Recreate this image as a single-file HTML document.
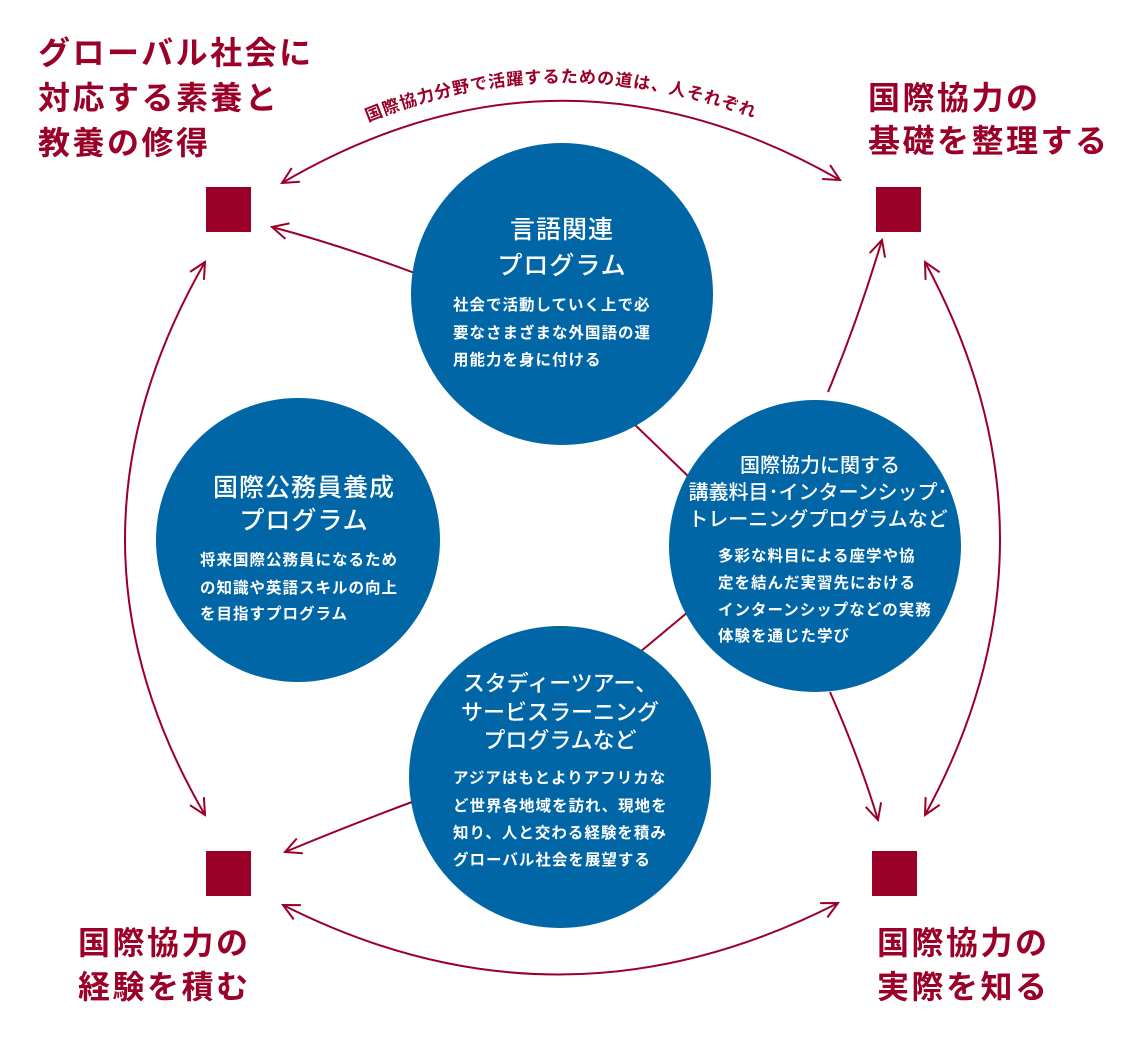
<!DOCTYPE html>
<html><head><meta charset="utf-8"><style>
html,body{margin:0;padding:0;background:#fff;}
svg{display:block;}
.t{font-family:"Liberation Sans","Noto Sans CJK JP",sans-serif;font-weight:bold;fill:#9b0029;font-size:32px;letter-spacing:2.5px;}
.c{font-family:"Liberation Sans","Noto Sans CJK JP",sans-serif;fill:#fff;}
.h{font-size:25px;font-weight:500;letter-spacing:1px;}
.h2{font-size:20px;font-weight:500;}
.h3{font-size:22px;font-weight:500;}
.b{font-size:15.5px;font-weight:bold;letter-spacing:1px;}
</style></head><body>
<svg width="1140" height="1048" viewBox="0 0 1140 1048" xmlns="http://www.w3.org/2000/svg">
<defs>
<marker id="a" viewBox="0 0 20 20" refX="18" refY="10" markerWidth="20" markerHeight="20" markerUnits="userSpaceOnUse" orient="auto-start-reverse">
<path d="M2,2 L18,10 L2,18" fill="none" stroke="#9b0029" stroke-width="2"/>
</marker>
<path id="arcText" d="M368,122 Q568,40 780,128"/>
</defs>
<g fill="none" stroke="#9b0029" stroke-width="2">
<path d="M282,183 Q560,20 840,180" marker-start="url(#a)" marker-end="url(#a)"/>
<path d="M205,262 Q45,540 205,815" marker-start="url(#a)" marker-end="url(#a)"/>
<path d="M925,262 Q1075,540 925,815" marker-start="url(#a)" marker-end="url(#a)"/>
<path d="M283,905 Q560,1045 838,903" marker-start="url(#a)" marker-end="url(#a)"/>
<path d="M420,275 Q340,245 272,227" marker-end="url(#a)"/>
<path d="M828,392 Q858,320 882,240" marker-end="url(#a)"/>
<path d="M830,692 Q860,760 878,820" marker-end="url(#a)"/>
<path d="M412,802 Q350,825 285,852" marker-end="url(#a)"/>
<line x1="630" y1="420" x2="690" y2="478"/>
<line x1="688" y1="612" x2="640" y2="652"/>
</g>
<text class="t" style="font-size:17px;letter-spacing:1px"><textPath href="#arcText">国際協力分野で活躍するための道は、人それぞれ</textPath></text>
<g fill="#9b0029">
<rect x="206" y="187" width="45" height="45"/>
<rect x="876" y="187" width="45" height="45"/>
<rect x="206" y="851" width="45" height="45"/>
<rect x="872" y="851" width="45" height="45"/>
</g>
<g fill="#0066a6">
<circle cx="562" cy="294" r="151"/>
<circle cx="298" cy="540" r="142"/>
<circle cx="815" cy="546" r="146"/>
<circle cx="560" cy="777" r="151"/>
</g>
<text class="t" x="38" y="64">グローバル社会に</text>
<text class="t" x="38" y="109">対応する素養と</text>
<text class="t" x="38" y="154">教養の修得</text>
<text class="t" x="868" y="109">国際協力の</text>
<text class="t" x="868" y="152">基礎を整理する</text>
<text class="t" x="78" y="954">国際協力の</text>
<text class="t" x="78" y="998">経験を積む</text>
<text class="t" x="877" y="954">国際協力の</text>
<text class="t" x="877" y="998">実際を知る</text>

<g class="c">
<text class="h" x="562" y="238" text-anchor="middle">言語関連</text>
<text class="h" x="562" y="274" text-anchor="middle">プログラム</text>
<text class="b" x="453" y="310">社会で活動していく上で必</text>
<text class="b" x="453" y="338">要なさまざまな外国語の運</text>
<text class="b" x="453" y="365">用能力を身に付ける</text>

<text class="h" x="304" y="496" text-anchor="middle">国際公務員養成</text>
<text class="h" x="304" y="529" text-anchor="middle">プログラム</text>
<text class="b" x="200" y="565">将来国際公務員になるため</text>
<text class="b" x="200" y="593">の知識や英語スキルの向上</text>
<text class="b" x="200" y="619">を目指すプログラム</text>

<text class="h2" x="820" y="472" text-anchor="middle">国際協力に関する</text>
<text class="h2" x="818" y="499" text-anchor="middle">講義料目･インターンシップ･</text>
<text class="h2" x="818" y="526" text-anchor="middle">トレーニングプログラムなど</text>
<text class="b" x="718" y="561">多彩な料目による座学や協</text>
<text class="b" x="718" y="588">定を結んだ実習先における</text>
<text class="b" x="718" y="615">インターンシップなどの実務</text>
<text class="b" x="718" y="641">体験を通じた学び</text>

<text class="h3" x="560" y="691" text-anchor="middle">スタディーツアー、</text>
<text class="h3" x="560" y="720" text-anchor="middle">サービスラーニング</text>
<text class="h3" x="560" y="748" text-anchor="middle">プログラムなど</text>
<text class="b" x="453" y="783">アジアはもとよりアフリカな</text>
<text class="b" x="453" y="811">ど世界各地域を訪れ、現地を</text>
<text class="b" x="453" y="838">知り、人と交わる経験を積み</text>
<text class="b" x="453" y="865">グローバル社会を展望する</text>
</g>
</svg>
</body></html>
